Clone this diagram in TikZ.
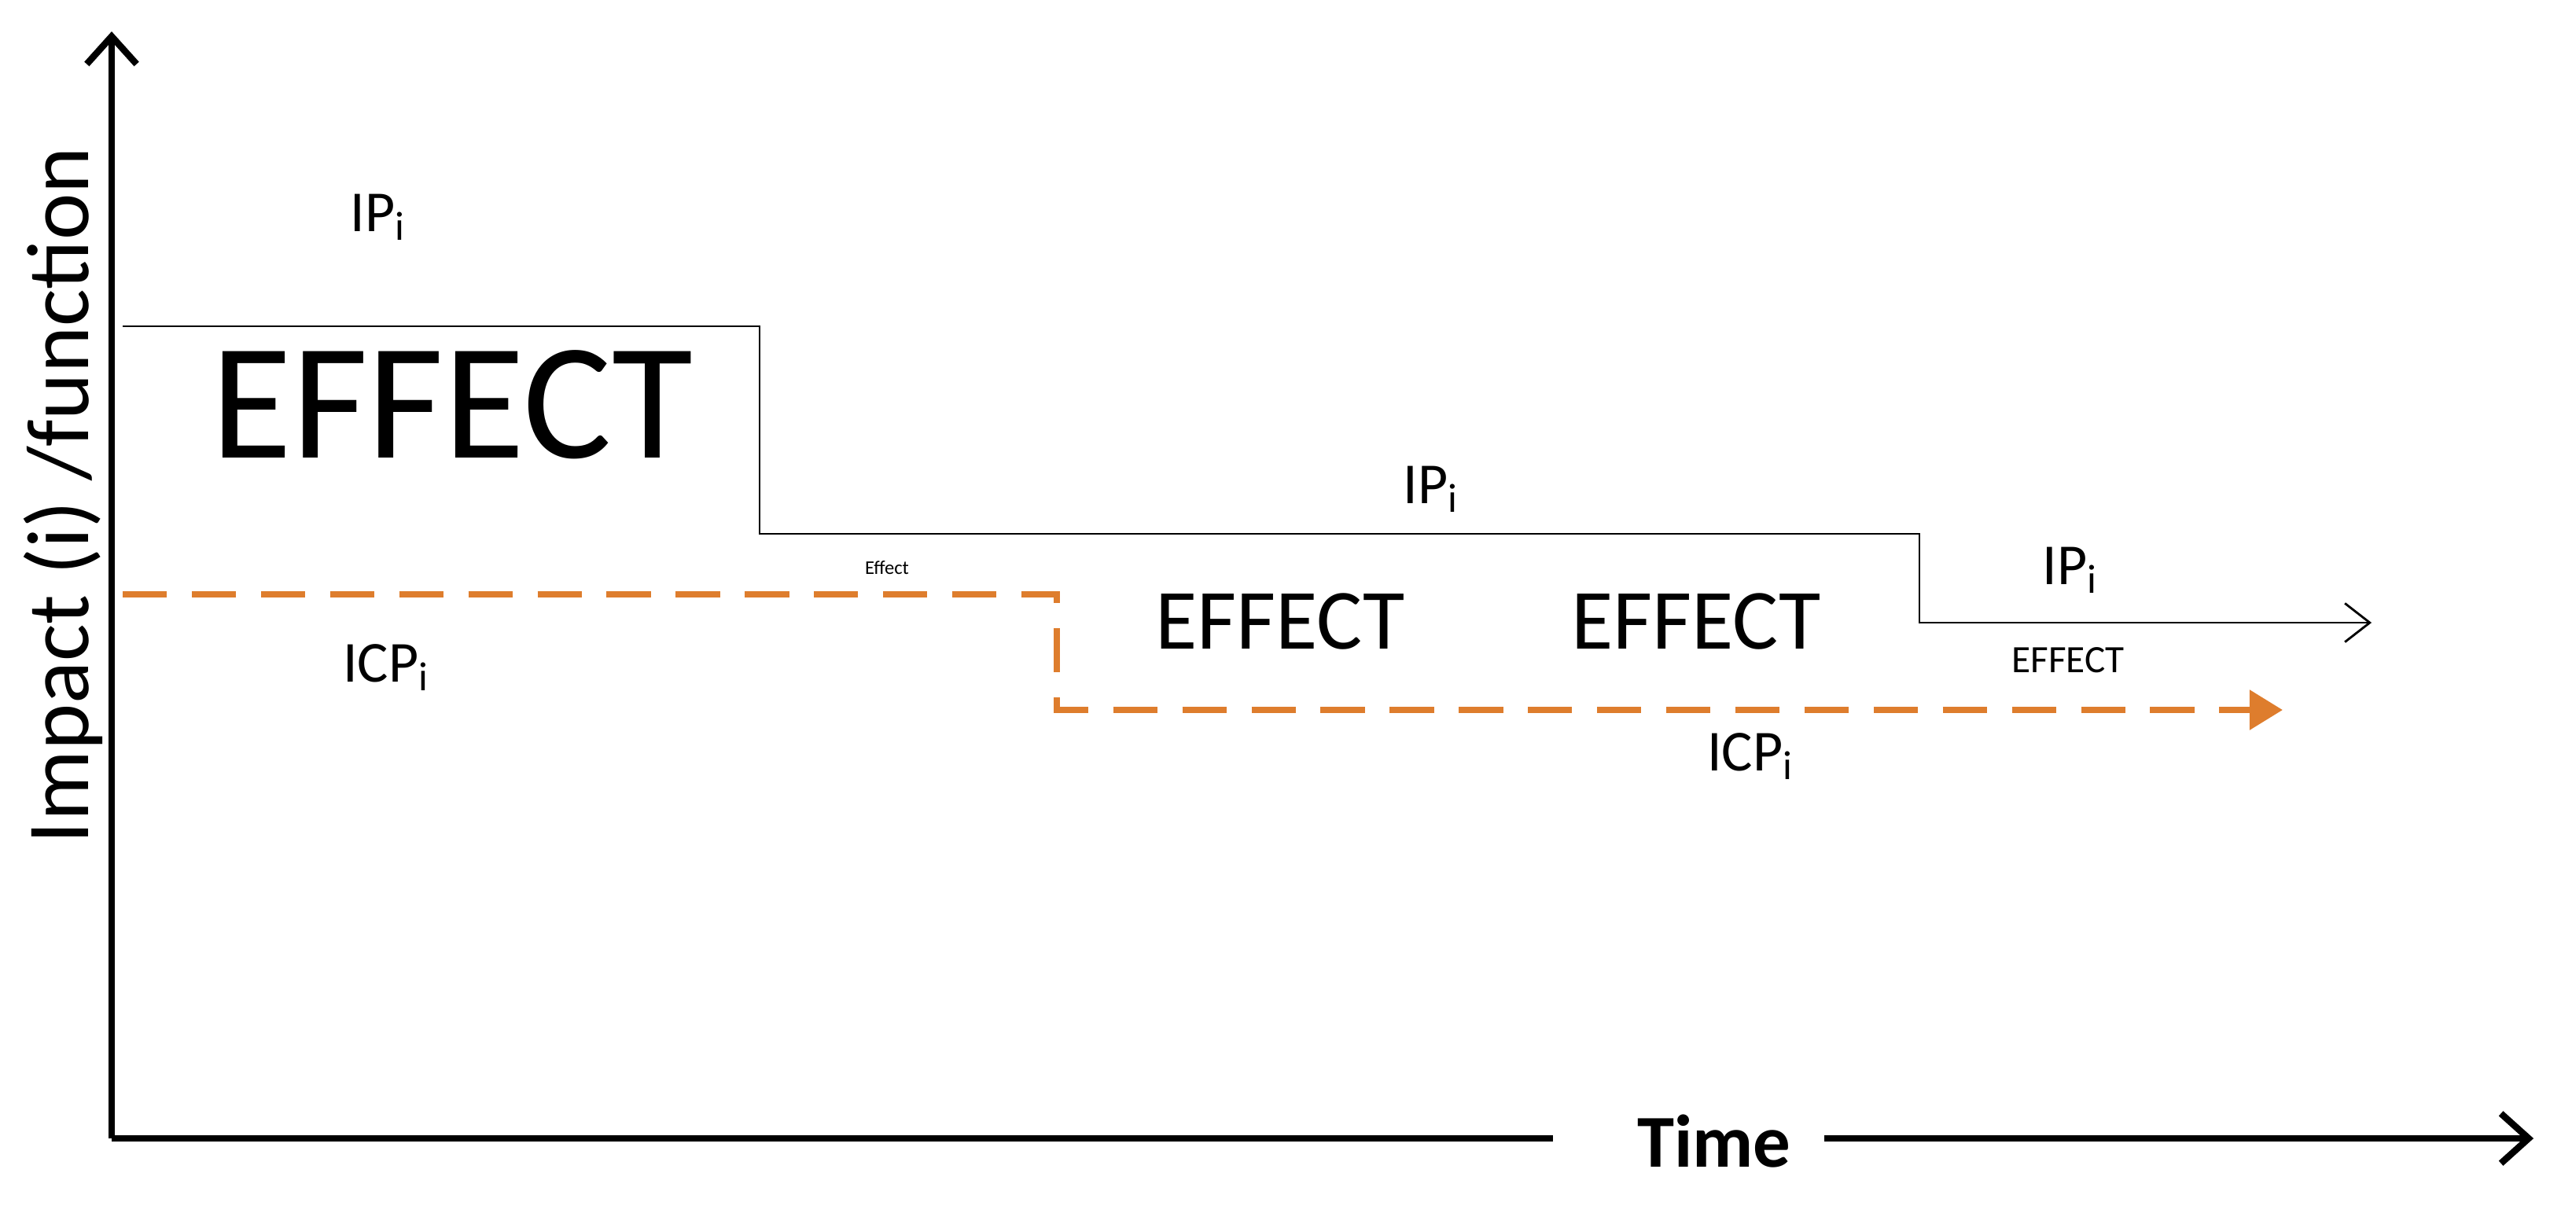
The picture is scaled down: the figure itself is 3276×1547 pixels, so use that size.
\documentclass[tikz,border=0pt]{standalone}
\usepackage{fontspec}
\setmainfont{Carlito}
\usetikzlibrary{arrows.meta}
\definecolor{org}{RGB}{222,125,45}
\begin{document}
\begin{tikzpicture}[x=0.01cm,y=-0.01cm,
  lbl/.style={inner sep=0pt,anchor=center},
  axis/.style={line width=2.4pt,-{Straight Barb[length=10pt,width=18pt,line width=2.4pt]}}]
\useasboundingbox (0,0) rectangle (3276,1547);
\coordinate (o) at (142,1448);
\coordinate (ytop) at (142,40);
\coordinate (xend) at (1975,1448);
\coordinate (xs) at (2320,1448);
\coordinate (xtip) at (3222,1448);
\draw[axis] (o) -- (ytop);
\draw[line width=2.4pt] (o) -- (xend);
\node[lbl,font=\bfseries\fontsize{27}{27}\selectfont] (time) at (2180,1452) {Time};
\draw[axis] (xs) -- (xtip);
\node[lbl,rotate=90,font=\fontsize{32}{32}\selectfont] (ylab) at (80,630) {Impact (i) /function};
% black line
\coordinate (b0) at (156,415); \coordinate (b1) at (966,415); \coordinate (b2) at (966,679);
\coordinate (b3) at (2441,679); \coordinate (b4) at (2441,792); \coordinate (b5) at (3016,792);
\draw[line width=0.8pt,-{Straight Barb[length=9pt,width=14pt]}] (b0) -- (b1) -- (b2) -- (b3) -- (b4) -- (b5);
% orange dashed
\coordinate (c0) at (156,756); \coordinate (c1) at (1344,756); \coordinate (c2) at (1344,903);
\coordinate (c3) at (2903,903);
\draw[org,line width=2.4pt,dash pattern=on 16pt off 9pt,-{Triangle[length=12pt,width=14pt]}] (c0) -- (c1) -- (c2) -- (c3);
% labels
\node[lbl,font=\fontsize{21}{21}\selectfont] (ip1) at (481,276) {IP\textsubscript{i}};
\node[lbl,font=\fontsize{21}{21}\selectfont] (ip2) at (1820,622) {IP\textsubscript{i}};
\node[lbl,font=\fontsize{21}{21}\selectfont] (ip3) at (2633,725) {IP\textsubscript{i}};
\node[lbl,font=\fontsize{21}{21}\selectfont] (icp1) at (491,849) {ICP\textsubscript{i}};
\node[lbl,font=\fontsize{21}{21}\selectfont] (icp2) at (2226,962) {ICP\textsubscript{i}};
\node[lbl,font=\fontsize{60}{60}\selectfont] (e1) at (575,515) {EFFECT};
\node[lbl,font=\fontsize{31}{31}\selectfont] (e2) at (1628,790) {EFFECT};
\node[lbl,font=\fontsize{31}{31}\selectfont] (e3) at (2157,790) {EFFECT};
\node[lbl,font=\fontsize{14}{14}\selectfont] (e4) at (2630,840) {EFFECT};
\node[lbl,font=\fontsize{7}{7}\selectfont] (e5) at (1128,722) {Effect};
\end{tikzpicture}
\end{document}
